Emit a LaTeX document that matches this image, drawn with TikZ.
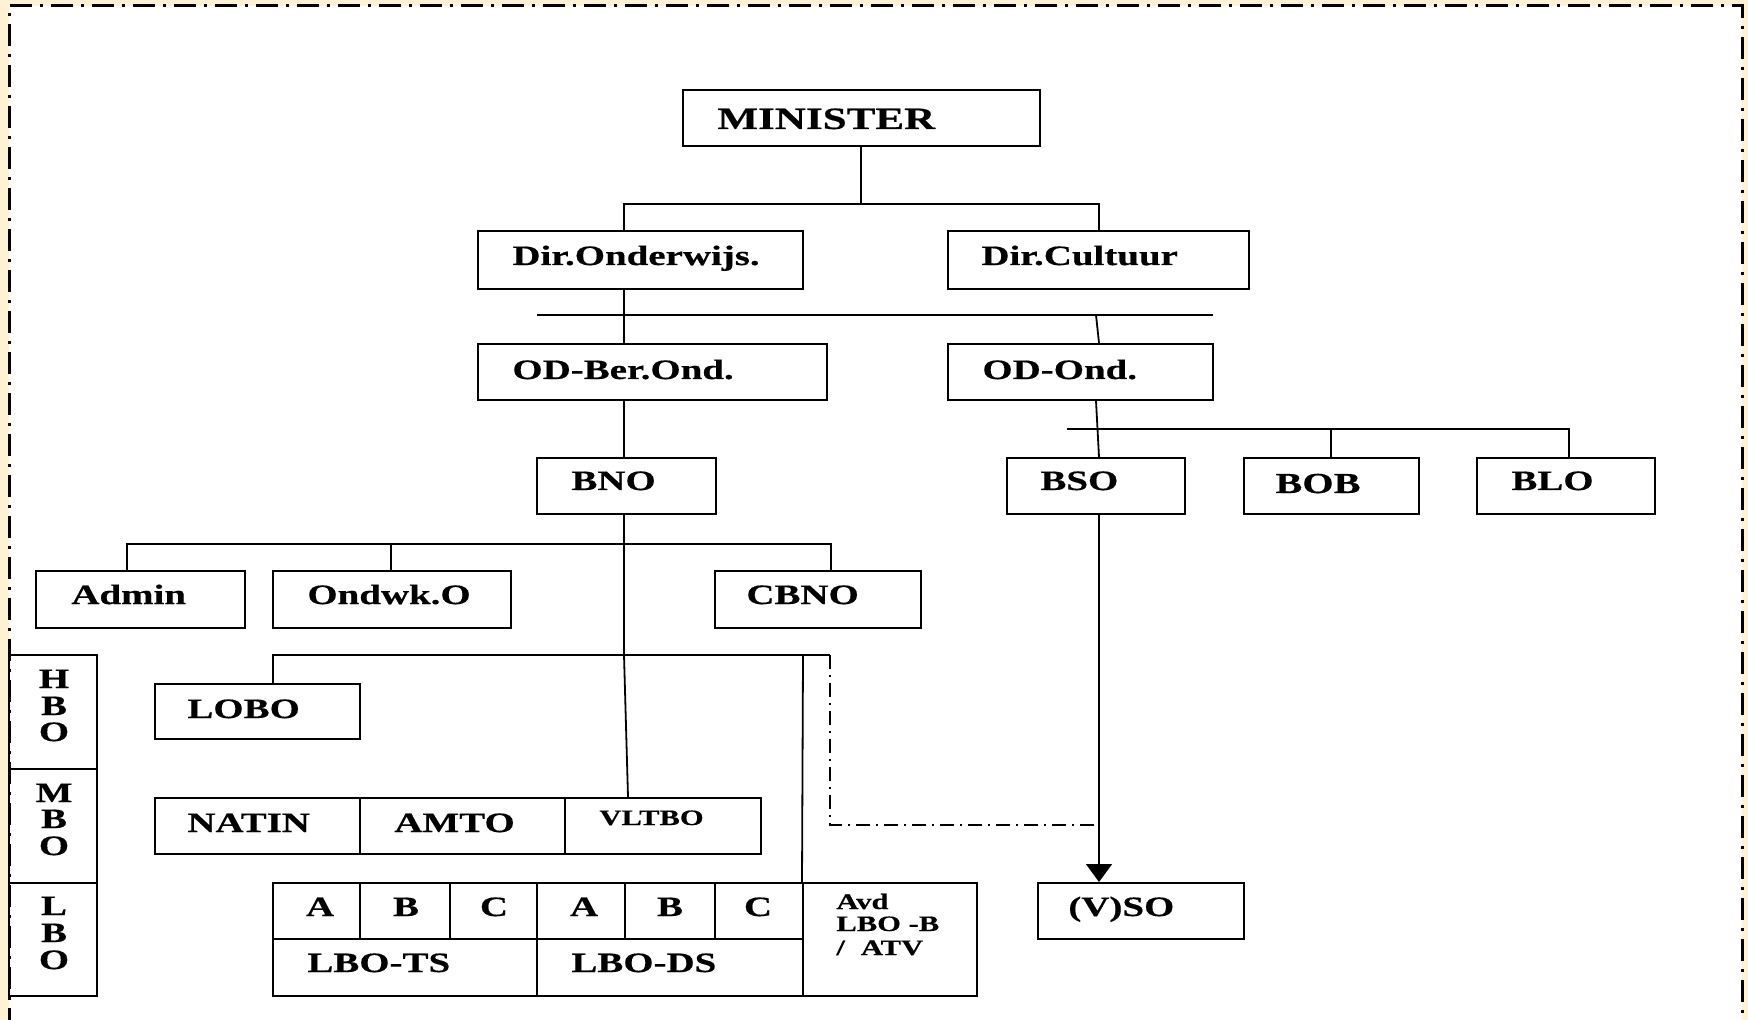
\documentclass[tikz,border=0pt]{standalone}
\usepackage{fontspec}
\setmainfont{Liberation Serif}[FakeStretch=1.39,FakeBold=0.5]
\usetikzlibrary{fit,arrows.meta}
\definecolor{cream}{HTML}{FFF2D4}
\tikzset{
  box/.style={draw, line width=1pt, inner sep=0pt},
  lbl/.style={inner sep=0pt, font=\fontsize{14}{16}\selectfont\bfseries},
  slbl/.style={inner sep=0pt, font=\fontsize{11}{12}\selectfont\bfseries},
  conn/.style={line width=0.9pt},
  frame/.style={line width=1.5pt, dash pattern=on 11pt off 4pt on 1.5pt off 4pt},
  dd/.style={line width=0.9pt, dash pattern=on 7pt off 3pt on 1pt off 3pt},
}
\newcommand{\bx}[5]{\node[box, fit={(#2,#3) (#4,#5)}] (#1) {};}
\begin{document}
\begin{tikzpicture}[x=0.5pt,y=-0.5pt]
\useasboundingbox (0,0) rectangle (1748,1020);
\fill[cream] (0,0) rectangle (1748,1020);
\fill[white] (9,6) rectangle (1742,1020);
\draw[frame] (9,1030) -- (9,6) -- (1742,6) -- (1742,1030);

% boxes
\bx{min}{683}{90}{1040}{146}
\bx{dirO}{478}{231}{803}{289}
\bx{dirC}{948}{231}{1249}{289}
\bx{odB}{478}{344}{827}{400}
\bx{odO}{948}{344}{1213}{400}
\bx{bno}{537}{458}{716}{514}
\bx{bso}{1007}{458}{1185}{514}
\bx{bob}{1244}{458}{1419}{514}
\bx{blo}{1477}{458}{1655}{514}
\bx{adm}{36}{571}{245}{628}
\bx{ond}{273}{571}{511}{628}
\bx{cbno}{715}{571}{921}{628}
\bx{lobo}{155}{684}{360}{739}
\bx{natin}{155}{798}{360}{854}
\bx{amto}{360}{798}{565}{854}
\bx{vltbo}{565}{798}{761}{854}
\bx{vso}{1038}{883}{1244}{939}
\bx{tA}{273}{883}{360}{939}
\bx{tB}{360}{883}{450}{939}
\bx{tC}{450}{883}{537}{939}
\bx{dA}{537}{883}{625}{939}
\bx{dB}{625}{883}{715}{939}
\bx{dC}{715}{883}{803}{939}
\bx{lts}{273}{939}{537}{996}
\bx{lds}{537}{939}{803}{996}
\bx{avd}{803}{883}{977}{996}
\bx{hbo}{9}{655}{97}{769}
\bx{mbo}{9}{769}{97}{883}
\bx{lbo}{9}{883}{97}{996}

% texts
\node[lbl, anchor=base west, font=\fontsize{15.5}{17}\selectfont\bfseries] at (717,129) {MINISTER};
\node[lbl, anchor=base west] at (512,265) {Dir.Onderwijs.};
\node[lbl, anchor=base west] at (981,265) {Dir.Cultuur};
\node[lbl, anchor=base west] at (512,379) {OD-Ber.Ond.};
\node[lbl, anchor=base west] at (982,379) {OD-Ond.};
\node[lbl, anchor=base west] at (571,490) {BNO};
\node[lbl, anchor=base west] at (1040,490) {BSO};
\node[lbl, anchor=base west, font=\fontsize{14.5}{17}\selectfont\bfseries] at (1275,493) {BOB};
\node[lbl, anchor=base west] at (1511,490) {BLO};
\node[lbl, anchor=base west] at (71,604) {Admin};
\node[lbl, anchor=base west] at (307,604) {Ondwk.O};
\node[lbl, anchor=base west] at (746,604) {CBNO};
\node[lbl, anchor=base west] at (187,718) {LOBO};
\node[lbl, anchor=base west] at (187,832) {NATIN};
\node[lbl, anchor=base west] at (394,832) {AMTO};
\node[slbl, anchor=base west] at (599,825) {VLTBO};
\node[lbl, anchor=base] at (320,916) {A};
\node[lbl, anchor=base] at (406,916) {B};
\node[lbl, anchor=base] at (494,916) {C};
\node[lbl, anchor=base] at (584,916) {A};
\node[lbl, anchor=base] at (670,916) {B};
\node[lbl, anchor=base] at (758,916) {C};
\node[lbl, anchor=base west] at (307,972) {LBO-TS};
\node[lbl, anchor=base west] at (571,972) {LBO-DS};
\node[slbl, anchor=base west] at (836,909) {Avd};
\node[slbl, anchor=base west] at (836,931) {LBO -B};
\node[slbl, anchor=base west] at (836,955) {/\hspace{8pt}ATV};
\node[lbl, anchor=base west] at (1068,916) {(V)SO};
\foreach \t/\y in {H/688,B/715,O/741,M/802,B/828,O/855,L/915,B/942,O/969}
  \node[lbl, anchor=base] at (54,\y) {\t};

% connectors
\coordinate (j1) at (861,204);
\draw[conn] (min.south -| j1) -- (j1);
\draw[conn] (dirO.north -| 624,0) |- (j1) -| (dirC.north -| 1099,0);
\draw[conn] (537,315) -- (1213,315);
\draw[conn] (dirO.south -| 624,0) -- (odB.north -| 624,0);
\draw[conn] (1096,315) -- (odO.north -| 1099,0);
\draw[conn] (odB.south -| 624,0) -- (bno.north -| 624,0);
\draw[conn] (odO.south -| 1096,0) -- (bso.north -| 1099,0);
\draw[conn] (1067,429) -| (bob.north -| 1331,0);
\draw[conn] (1331,429) -| (blo.north -| 1569,0);
\draw[conn] (bno.south -| 624,0) -- (624,655) -- (vltbo.north -| 628,0);
\draw[conn] (adm.north -| 127,0) |- (624,544) -| (cbno.north -| 831,0);
\draw[conn] (ond.north -| 391,0) -- (391,544);
\draw[conn] (lobo.north -| 273,0) |- (830,655);
\draw[conn] (803,655) -- (avd.north west);
\draw[dd] (830,655) -- (830,825) -- (1099,825);
\draw[conn, -{Triangle[width=13pt,length=9pt]}] (bso.south -| 1099,0) -- (vso.north -| 1099,0);
\end{tikzpicture}
\end{document}
